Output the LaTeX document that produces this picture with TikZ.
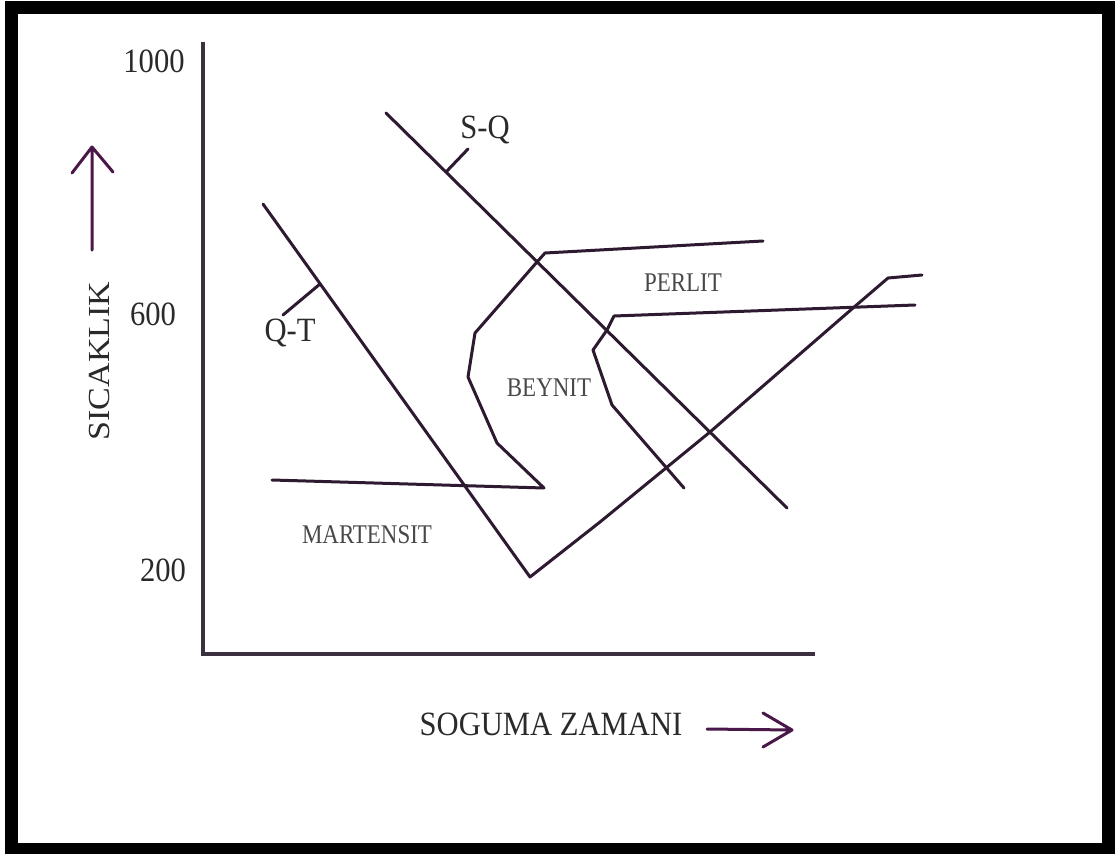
\documentclass[tikz,border=0pt]{standalone}
\usepackage{fontspec}
\setmainfont{Liberation Serif}
\definecolor{curve}{HTML}{2E1A30}
\definecolor{axiscol}{HTML}{3A3040}
\definecolor{arrowcol}{HTML}{4A1848}
\definecolor{txt}{HTML}{2A2A2A}
\definecolor{regiontxt}{HTML}{484848}
\begin{document}
\begin{tikzpicture}[x=1pt,y=-1pt,
  curveline/.style={draw=curve,line width=3pt,line join=round,line cap=round},
  axisline/.style={draw=axiscol,line width=3.6pt,line join=miter},
  dirarrow/.style={draw=arrowcol,line width=3pt,line cap=round,line join=round},
  biglabel/.style={inner sep=0pt,text=txt,font=\fontsize{34}{40}\selectfont,xscale=0.9},
  regionlabel/.style={inner sep=0pt,text=regiontxt,font=\fontsize{27}{32}\selectfont,xscale=0.85}]
\useasboundingbox (0,0) rectangle (1117,854);
\fill[white] (0,0) rectangle (1117,854);
% frame
\draw[black,line width=12.5pt] (11.5,7.5) rectangle (1108.5,849.5);

% axes
\coordinate (ytop) at (203,42);
\coordinate (origin) at (203,654);
\coordinate (xend) at (815,654);
\draw[axisline] (ytop) -- (origin) -- (xend);

% direction arrows
\coordinate (uptail) at (92,250);
\coordinate (uptip) at (92,147);
\coordinate (upl) at (72,173);
\coordinate (upr) at (113,172);
\draw[dirarrow] (uptail) -- (uptip) (upl) -- (uptip) -- (upr);
\coordinate (rttail) at (707,729);
\coordinate (rttip) at (792,730);
\coordinate (rtu) at (763,713);
\coordinate (rtd) at (763,747);
\draw[dirarrow] (rttail) -- (rttip) (rtu) -- (rttip) -- (rtd);

% labels
\node[biglabel] (l1000) at (154,61) {1000};
\node[biglabel] (l600) at (153,314) {600};
\node[biglabel] (l200) at (163,570) {200};
\node[biglabel,rotate=90] (sic) at (100,361) {SICAKLIK};
\node[biglabel] (zam) at (551,724) {SOGUMA ZAMANI};
\node[biglabel] (qt) at (290,333) {Q-T};
\node[biglabel] (sq) at (485,130) {S-Q};
\node[regionlabel] (perlit) at (683,283) {PERLIT};
\node[regionlabel] (beynit) at (549,388) {BEYNIT};
\node[regionlabel] (mart) at (367,535) {MARTENSIT};

% Q-T cooling curve
\coordinate (qt1) at (263,204);
\coordinate (qtv) at (530,577);
\coordinate (qt2) at (600,522);
\coordinate (qt3) at (710,432);
\coordinate (qt4) at (853,308);
\coordinate (qt5) at (888,278);
\coordinate (qt6) at (922,275);
\draw[curveline] (qt1) -- (qtv) -- (qt2) -- (qt3) -- (qt4) -- (qt5) -- (qt6);
\coordinate (qttickA) at (283,315);
\coordinate (qttickB) at (320,284);
\draw[curveline] (qttickA) -- (qttickB);

% S-Q cooling curve
\coordinate (sq1) at (386,113);
\coordinate (sq2) at (787,508);
\draw[curveline] (sq1) -- (sq2);
\coordinate (sqtickA) at (468,149);
\coordinate (sqtickB) at (446,172);
\draw[curveline] (sqtickA) -- (sqtickB);

% first transformation curve (start)
\coordinate (a1) at (763,241);
\coordinate (a2) at (545,253);
\coordinate (a3) at (537,262);
\coordinate (a4) at (475,333);
\coordinate (a5) at (468,377);
\coordinate (a6) at (497,443);
\coordinate (a7) at (544,488);
\coordinate (a8) at (272,480);
\draw[curveline] (a1) -- (a2) -- (a3) -- (a4) -- (a5) -- (a6) -- (a7) -- (a8);

% second transformation curve (finish)
\coordinate (b1) at (915,305);
\coordinate (b2) at (614,316);
\coordinate (b3) at (607,330);
\coordinate (b4) at (593,350);
\coordinate (b5) at (612,405);
\coordinate (b6) at (684,488);
\draw[curveline] (b1) -- (b2) -- (b3) -- (b4) -- (b5) -- (b6);
\end{tikzpicture}
\end{document}
